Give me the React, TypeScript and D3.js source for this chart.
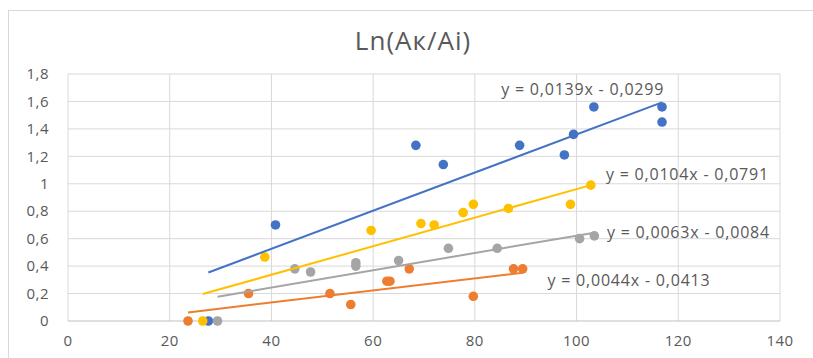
import * as d3 from 'd3';

type Pt = [number, number];

const xTicks = [0, 20, 40, 60, 80, 100, 120, 140];
const yTicks = [0, 0.2, 0.4, 0.6, 0.8, 1, 1.2, 1.4, 1.6, 1.8];

const blueData: Pt[] = [
  [27.6, 0], [40.8, 0.7], [68.4, 1.28], [73.8, 1.14], [88.8, 1.28],
  [97.6, 1.21], [99.4, 1.36], [103.4, 1.56], [116.8, 1.56], [116.8, 1.45],
];
const orangeData: Pt[] = [
  [23.6, 0], [35.5, 0.2], [51.5, 0.2], [55.6, 0.12], [62.7, 0.29], [63.3, 0.29],
  [67.1, 0.38], [79.7, 0.18], [87.6, 0.38], [89.4, 0.38],
];
const grayData: Pt[] = [
  [29.4, 0], [44.6, 0.38], [47.7, 0.357], [56.6, 0.425], [56.6, 0.4], [65, 0.44],
  [74.8, 0.53], [84.4, 0.53], [100.6, 0.6], [103.5, 0.62],
];
const yellowData: Pt[] = [
  [26.5, 0], [38.7, 0.466], [59.6, 0.66], [69.4, 0.71], [72, 0.7], [77.7, 0.79],
  [79.7, 0.85], [86.6, 0.82], [98.8, 0.85], [102.8, 0.99],
];

const series = [
  { name: 'blue', color: '#4472C4', data: blueData, slope: 0.0139, icpt: -0.0299, label: 'y = 0,0139x - 0,0299', lx: 101.2, ly: 1.69 },
  { name: 'orange', color: '#ED7D31', data: orangeData, slope: 0.0044, icpt: -0.0413, label: 'y = 0,0044x - 0,0413', lx: 110.3, ly: 0.295 },
  { name: 'gray', color: '#A5A5A5', data: grayData, slope: 0.0063, icpt: -0.0084, label: 'y = 0,0063x - 0,0084', lx: 122.0, ly: 0.645 },
  { name: 'yellow', color: '#FFC000', data: yellowData, slope: 0.0104, icpt: -0.0791, label: 'y = 0,0104x - 0,0791', lx: 121.8, ly: 1.07 },
];

const W = 813;
const H = 358;
const font = "'Open Sans', sans-serif";
const textColor = '#595959';

export default function App() {
  const x = d3.scaleLinear().domain([0, 140]).range([68, 780]);
  const y = d3.scaleLinear().domain([0, 1.8]).range([321, 74]);
  const line = d3.line<Pt>().x((d) => x(d[0])).y((d) => y(d[1]));

  return (
    <svg width={W} height={H} style={{ position: 'absolute', left: 0, top: 0, background: '#fff' }}>
      <rect x={8.5} y={10.5} width={W} height={H} fill="#fff" stroke="#d9d9d9" />
      <text x={413} y={50} textAnchor="middle" fontFamily={font} fontSize={26} letterSpacing={1} fill={textColor}>
        Ln(Aк/Ai)
      </text>
      {xTicks.map((t) => (
        <line key={'gx' + t} x1={x(t)} x2={x(t)} y1={y(0)} y2={y(1.8)} stroke="#d9d9d9" />
      ))}
      {yTicks.map((t) => (
        <line key={'gy' + t} x1={x(0)} x2={x(140)} y1={y(t)} y2={y(t)} stroke={t === 0 ? '#bfbfbf' : '#d9d9d9'} />
      ))}
      {yTicks.map((t) => (
        <text key={'ty' + t} x={49} y={y(t)} dy="0.35em" textAnchor="end" fontFamily={font} fontSize={15} letterSpacing={0.5} fill={textColor}>
          {d3.format('')(t).replace('.', ',')}
        </text>
      ))}
      {xTicks.map((t) => (
        <text key={'tx' + t} x={x(t)} y={341} dy="0.35em" textAnchor="middle" fontFamily={font} fontSize={15} letterSpacing={0.5} fill={textColor}>
          {t}
        </text>
      ))}
      {series.map((s) => (
        <g key={s.name}>
          {s.data.map((d, i) => (
            <circle key={i} cx={x(d[0])} cy={y(d[1])} r={4.8} fill={s.color} />
          ))}
        </g>
      ))}
      {series.map((s) => {
        const [x0, x1] = d3.extent(s.data, (d) => d[0]) as [number, number];
        const pts: Pt[] = [x0, x1].map((v) => [v, s.slope * v + s.icpt]);
        return <path key={'t' + s.name} d={line(pts) ?? ''} stroke={s.color} strokeWidth={2} fill="none" />;
      })}
      {series.map((s) => (
        <text key={'l' + s.name} x={x(s.lx)} y={y(s.ly)} dy="0.35em" textAnchor="middle" fontFamily={font} fontSize={16} letterSpacing={0.8} fill={textColor}>
          {s.label}
        </text>
      ))}
    </svg>
  );
}
